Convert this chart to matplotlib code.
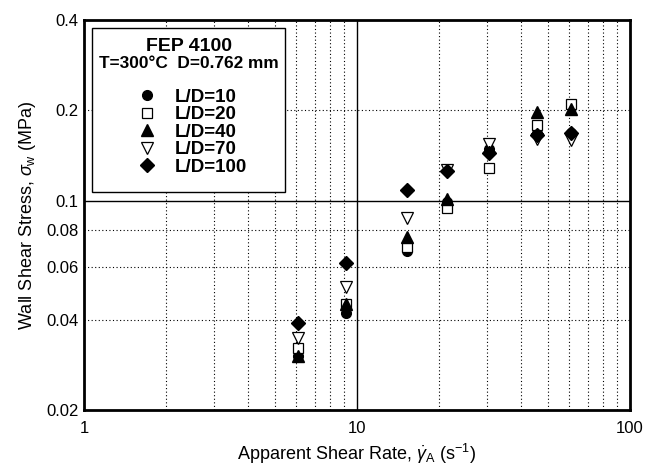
import matplotlib
matplotlib.use("Agg")
import matplotlib.pyplot as plt
from matplotlib.patches import Rectangle
from matplotlib.ticker import FixedLocator, NullFormatter, NullLocator

plt.rcParams['font.family'] = ['Liberation Sans', 'DejaVu Sans']
plt.rcParams['mathtext.fontset'] = 'custom'
plt.rcParams['mathtext.rm'] = 'Liberation Sans'
plt.rcParams['mathtext.it'] = 'Liberation Sans:italic'

shear_rate = [6.1, 9.15, 15.2, 21.3, 30.4, 45.6, 60.8]

ld10 = [0.0302, 0.0422, 0.0676, 0.0990, 0.149, 0.1676, 0.168]
ld20 = [0.0321, 0.0452, 0.0702, 0.0942, 0.128, 0.179, 0.210]
ld40 = [0.0302, 0.0453, 0.0758, 0.101, 0.151, 0.197, 0.2015]
ld70 = [0.0347, 0.0516, 0.0877, 0.126, 0.154, 0.160, 0.159]
ld100 = [0.0389, 0.0621, 0.1085, 0.1255, 0.1445, 0.1655, 0.1685]

labels = ['L/D=10', 'L/D=20', 'L/D=40', 'L/D=70', 'L/D=100']

y_ticks = [0.02, 0.04, 0.06, 0.08, 0.1, 0.2, 0.4]
y_ticklabels = ['0.02', '0.04', '0.06', '0.08', '0.1', '0.2', '0.4']
x_ticks = [1, 10, 100]
x_ticklabels = ['1', '10', '100']

fig = plt.figure(figsize=(6.46, 4.67), dpi=100)
ax = fig.add_axes([0.130, 0.122, 0.845, 0.835])
ax.set_xscale('log')
ax.set_yscale('log')
ax.set_xlim(1, 100)
ax.set_ylim(0.02, 0.4)

# grid
minor_x = [2, 3, 4, 5, 6, 7, 8, 9, 20, 30, 40, 50, 60, 70, 80, 90]
minor_y = [0.04, 0.06, 0.08, 0.2]
for xv in minor_x:
    ax.axvline(xv, color='black', lw=0.8, ls=(0, (1, 2.2)), zorder=1)
for yv in minor_y:
    ax.axhline(yv, color='black', lw=0.8, ls=(0, (1, 2.2)), zorder=1)
ax.axvline(10, color='black', lw=1.0, zorder=1)
ax.axhline(0.1, color='black', lw=1.0, zorder=1)

ms = 7
ax.plot(shear_rate, ld10, ls='none', marker='o', mfc='black', mec='black', ms=ms, label=labels[0], zorder=3)
ax.plot(shear_rate, ld20, ls='none', marker='s', mfc='white', mec='black', mew=0.9, ms=ms, label=labels[1], zorder=3)
ax.plot(shear_rate, ld40, ls='none', marker='^', mfc='black', mec='black', ms=ms + 1, label=labels[2], zorder=3)
ax.plot(shear_rate, ld70, ls='none', marker='v', mfc='white', mec='black', mew=0.9, ms=ms + 1, label=labels[3], zorder=3)
ax.plot(shear_rate, ld100, ls='none', marker='D', mfc='black', mec='black', ms=ms, label=labels[4], zorder=4)

ax.yaxis.set_major_locator(FixedLocator(y_ticks))
ax.set_yticklabels(y_ticklabels)
ax.yaxis.set_minor_locator(NullLocator())
ax.yaxis.set_minor_formatter(NullFormatter())
ax.xaxis.set_major_locator(FixedLocator(x_ticks))
ax.set_xticklabels(x_ticklabels)
ax.xaxis.set_minor_locator(NullLocator())
ax.xaxis.set_minor_formatter(NullFormatter())
ax.tick_params(axis='both', which='both', length=0, labelsize=12)
ax.tick_params(axis='x', pad=8)
ax.tick_params(axis='y', pad=4)

for sp in ax.spines.values():
    sp.set_linewidth(2.0)

ax.set_xlabel(r'Apparent Shear Rate, $\dot{\gamma}_{\mathrm{A}}$ (s$^{\mathrm{-1}}$)', fontsize=13, labelpad=4)
ax.set_ylabel(r'Wall Shear Stress, $\sigma_{\mathrm{w}}$ (MPa)', fontsize=13, labelpad=6)

# legend box
box = Rectangle((0.0147, 0.559), 0.3535, 0.42, transform=ax.transAxes,
                facecolor='white', edgecolor='black', lw=1.0, zorder=5)
ax.add_patch(box)
ax.text(0.1925, 0.932, 'FEP 4100', transform=ax.transAxes, ha='center', va='center',
        fontsize=14, fontweight='bold', zorder=6)
ax.text(0.1925, 0.888, 'T=300°C  D=0.762 mm', transform=ax.transAxes, ha='center', va='center',
        fontsize=12.4, fontweight='bold', zorder=6)

leg = ax.legend(loc='upper center', bbox_to_anchor=(0.199, 0.848),
                prop={'weight': 'bold', 'size': 13.5},
                frameon=False, handlelength=1.0, handletextpad=1.0,
                labelspacing=0.02, borderpad=0.0, markerscale=1.0)
leg.set_zorder(7)

fig.savefig('out.png', dpi=100)
